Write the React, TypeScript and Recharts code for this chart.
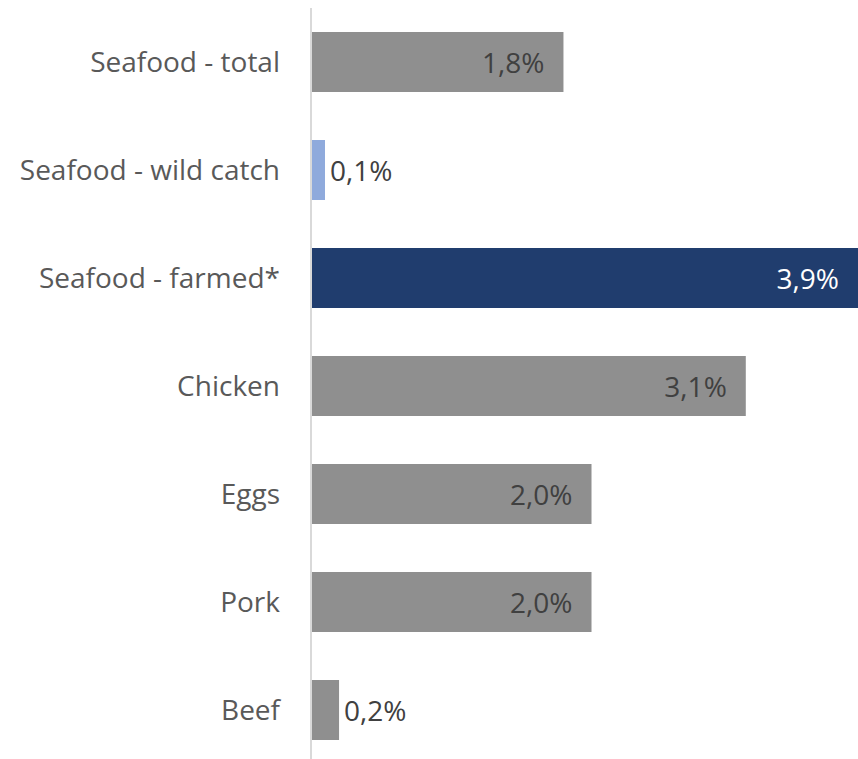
import React from "react";
import { BarChart, Bar, XAxis, YAxis, Cell, LabelList } from "recharts";

const categories = [
  "Seafood - total",
  "Seafood - wild catch",
  "Seafood - farmed*",
  "Chicken",
  "Eggs",
  "Pork",
  "Beef",
];
const values = [1.8, 0.1, 3.9, 3.1, 2.0, 2.0, 0.2];
const colors = ["#8f8f8f", "#8faadc", "#203d6e", "#8f8f8f", "#8f8f8f", "#8f8f8f", "#8f8f8f"];
const labelColors = ["#404040", "#404040", "#ffffff", "#404040", "#404040", "#404040", "#404040"];

const data = categories.map((c, i) => ({ name: c, value: values[i] }));

const FONT = "'Open Sans', sans-serif";

const fmt = (v: number) => v.toFixed(1).replace(".", ",") + "%";

const ValueLabel = (props: any) => {
  const { x, y, width, height, value, index } = props;
  const inside = width > 100;
  const tx = inside ? x + width - 19 : x + width + 5;
  return (
    <text
      x={tx}
      y={y + height / 2}
      textAnchor={inside ? "end" : "start"}
      dominantBaseline="central"
      fill={labelColors[index]}
      fontSize={28}
      fontFamily={FONT}
    >
      {fmt(value)}
    </text>
  );
};

export default function App() {
  return (
    <div style={{ width: 858, height: 764 }}>
      <style>{`html,body{margin:0;padding:0;overflow:hidden;background:#fff}`}</style>
      <BarChart
        width={858}
        height={764}
        data={data}
        layout="vertical"
        margin={{ top: 8, right: 0, bottom: 0, left: 8 }}
      >
        <XAxis type="number" domain={[0, 3.9]} allowDataOverflow hide />
        <YAxis
          type="category"
          dataKey="name"
          width={303}
          axisLine={{ stroke: "#d9d9d9", strokeWidth: 2 }}
          tickLine={false}
          tickMargin={25}
          tick={{ fill: "#595959", fontSize: 28, fontFamily: FONT }}
        />
        <Bar dataKey="value" barSize={60} isAnimationActive={false}>
          {data.map((d, i) => (
            <Cell key={d.name} fill={colors[i]} />
          ))}
          <LabelList dataKey="value" content={<ValueLabel />} />
        </Bar>
      </BarChart>
    </div>
  );
}
